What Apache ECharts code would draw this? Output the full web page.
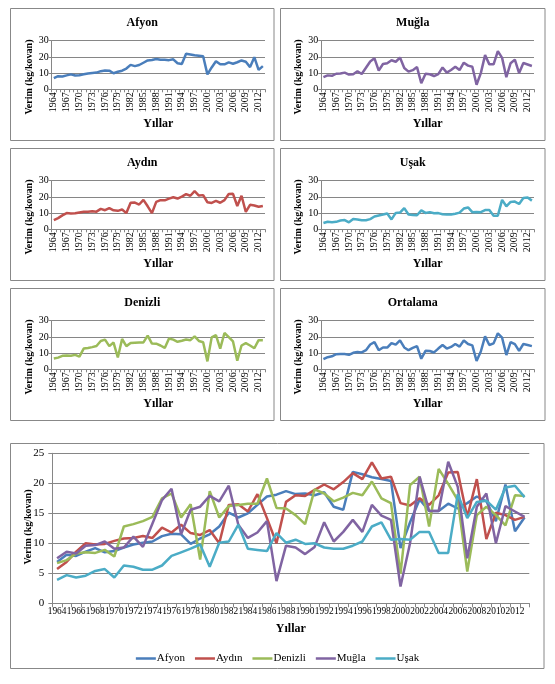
<!DOCTYPE html>
<html>
<head>
<meta charset="utf-8">
<script src="https://cdn.jsdelivr.net/npm/echarts@6/dist/echarts.min.js"></script>
<style>html,body{margin:0;padding:0;background:#fff;}#c{width:555px;height:684px;}</style>
</head>
<body>
<div id="c"></div>
<script>
var years = [1964,1965,1966,1967,1968,1969,1970,1971,1972,1973,1974,1975,1976,1977,1978,1979,1980,1981,1982,1983,1984,1985,1986,1987,1988,1989,1990,1991,1992,1993,1994,1995,1996,1997,1998,1999,2000,2001,2002,2003,2004,2005,2006,2007,2008,2009,2010,2011,2012,2013];
var afyon = [6.9,8.1,7.9,8.6,9.2,8.5,8.7,9.3,9.8,10.1, 10.3,11.2,11.6,11.5,9.9,10.8,11.5,12.8,15.1,14.3, 15.0,16.4,17.8,18.1,18.7,18.2,18.3,18.0,18.5,16.1, 15.6,21.9,21.5,21.0,20.7,20.4,9.2,13.5,17.3,15.4, 15.4,16.6,15.8,16.7,17.8,17.0,13.7,19.8,12.0,14.3];
var aydin = [5.7,6.9,8.6,10.0,9.8,9.9,10.4,10.8,10.9,11.2, 10.9,12.6,11.8,13.1,11.7,11.4,12.2,10.0,16.4,16.5, 15.3,18.2,14.2,10.0,16.9,18.0,17.9,18.9,19.8,19.0, 20.2,21.7,20.7,23.5,20.8,21.1,16.7,16.3,17.5,16.4, 18.0,21.8,21.9,14.4,20.7,10.7,15.1,14.7,13.9,14.4];
var denizli = [6.7,7.2,8.3,8.5,8.4,8.9,7.8,12.8,13.2,13.7, 14.4,17.5,18.3,14.3,16.5,7.3,18.7,14.3,16.2,16.4, 16.6,16.6,20.8,15.9,15.8,14.7,13.2,19.0,18.3,17.0, 17.6,18.4,18.0,20.3,17.5,16.7,4.9,19.7,21.1,12.8, 22.4,19.9,17.2,5.3,14.7,16.1,14.7,13.0,18.0,17.9];
var mugla = [7.5,8.6,8.3,9.6,9.7,10.3,9.1,9.3,11.1,9.4, 13.3,17.2,19.1,11.5,15.6,16.1,17.9,17.0,19.6,13.1, 10.9,11.8,13.7,3.7,9.6,9.3,8.2,9.4,13.5,10.3, 11.9,13.9,11.9,16.4,14.6,13.9,2.8,10.0,21.1,15.4, 15.4,23.6,19.4,7.5,16.1,18.3,10.0,16.2,15.3,14.4];
var usak = [3.9,4.7,4.3,4.6,5.4,5.7,4.3,6.3,6.1,5.6, 5.6,6.3,7.9,8.5,9.1,9.8,6.1,10.1,10.3,13.1, 9.1,8.9,8.7,11.7,10.1,10.6,9.9,10.0,9.3,9.1, 9.1,9.6,10.3,12.8,13.5,10.6,10.7,10.6,11.9,11.9, 8.4,8.4,18.2,14.2,16.9,17.1,15.6,19.3,19.6,17.7];
var ortalama = [6.3,7.5,8.0,9.3,9.4,9.4,8.9,10.2,10.7,10.4, 11.8,15.3,16.8,11.8,13.5,13.4,16.2,15.2,17.8,13.5, 11.8,13.2,14.3,6.5,11.4,11.3,10.4,12.8,15.0,12.8, 13.8,15.6,14.0,17.8,15.6,14.8,5.1,11.0,20.3,15.0, 16.0,22.2,19.5,8.8,16.8,15.5,11.4,15.6,15.0,14.3];

var panelNames = ['Afyon','Muğla','Aydın','Uşak','Denizli','Ortalama'];
var panelData = [afyon, mugla, aydin, usak, denizli, ortalama];
var panelColors = ['#4A7EBB','#8064A2','#C0504D','#4BACC6','#9BBB59','#4A7EBB'];
var seriesNames = ['Afyon','Aydın','Denizli','Muğla','Uşak'];
var seriesData = [afyon, aydin, denizli, mugla, usak];
var seriesColors = ['#4A7EBB','#C0504D','#9BBB59','#8064A2','#4BACC6'];

var FONT = '"Liberation Serif", "Times New Roman", serif';
var GRID_C = '#868686';

var grids = [], xAxes = [], yAxes = [], series = [], graphics = [];

function txt(x, y, s, size, bold, rot) {
  graphics.push({
    type: 'text', x: x, y: y, rotation: rot || 0, z: 10,
    style: {
      text: s, font: (bold ? 'bold ' : '') + size + 'px ' + FONT, fill: '#000',
      align: 'center', verticalAlign: 'middle', textAlign: 'center', textVerticalAlign: 'middle'
    }
  });
}
function box(x, y, w, h) {
  graphics.push({ type: 'rect', z: 0, shape: { x: x, y: y, width: w, height: h },
    style: { fill: 'none', stroke: '#888888', lineWidth: 1 } });
}

// small panels
var colBox = [[10.5, 263.5], [280.5, 264.5]];
var colGrid = [[51.7, 213.3], [321.3, 212.7]];
for (var p = 0; p < 6; p++) {
  var col = p % 2, row = Math.floor(p / 2);
  var oy = row * 140;
  box(colBox[col][0], 8.5 + oy, colBox[col][1], 132);
  var gl = colGrid[col][0], gw = colGrid[col][1];
  grids.push({ left: gl, top: 40.7 + oy, width: gw, height: 48.6 });
  xAxes.push({
    type: 'category', gridIndex: p, data: years, boundaryGap: true,
    axisLine: { show: true, lineStyle: { color: GRID_C, width: 1 } },
    axisTick: { show: true, interval: 0, length: 3, lineStyle: { color: GRID_C } },
    axisLabel: { interval: function (i) { return i % 3 === 0; }, rotate: 90, fontFamily: FONT, fontSize: 10,
      color: '#000', margin: 3, showMinLabel: true, hideOverlap: false }
  });
  yAxes.push({
    type: 'value', gridIndex: p, min: 0, max: 30, interval: 10,
    axisLine: { show: true, lineStyle: { color: GRID_C, width: 1 } },
    axisTick: { show: true, length: 3, lineStyle: { color: GRID_C } },
    splitLine: { show: true, lineStyle: { color: GRID_C, width: 1 } },
    axisLabel: { fontFamily: FONT, fontSize: 10, color: '#000', margin: 3 }
  });
  series.push({
    type: 'line', name: panelNames[p] + ' panel', xAxisIndex: p, yAxisIndex: p,
    data: panelData[p], symbol: 'none', smooth: false,
    lineStyle: { color: panelColors[p], width: 2.5 }, itemStyle: { color: panelColors[p] }
  });
  var cx = colBox[col][0] + colBox[col][1] / 2;
  txt(cx, 23 + oy, panelNames[p], 12, true);
  txt(gl + gw / 2, 124 + oy, 'Yıllar', 12, true);
  txt(col === 0 ? 29 : 298, 77 + oy, 'Verim (kg/kovan)', 10, true, Math.PI / 2);
}

// big chart
box(10.5, 443.5, 533.5, 225);
grids.push({ left: 52.3, top: 453.3, width: 477, height: 150 });
xAxes.push({
  type: 'category', gridIndex: 6, data: years, boundaryGap: true,
  axisLine: { show: true, lineStyle: { color: GRID_C, width: 1 } },
  axisTick: { show: true, interval: 0, length: 4, lineStyle: { color: GRID_C } },
  axisLabel: { interval: function (i) { return i % 2 === 0; }, fontFamily: FONT, fontSize: 9.4, color: '#000', margin: 4,
    hideOverlap: false, showMinLabel: true }
});
yAxes.push({
  type: 'value', gridIndex: 6, min: 0, max: 25, interval: 5,
  axisLine: { show: true, lineStyle: { color: GRID_C, width: 1 } },
  axisTick: { show: true, length: 4, lineStyle: { color: GRID_C } },
  splitLine: { show: true, lineStyle: { color: GRID_C, width: 1 } },
  axisLabel: { fontFamily: FONT, fontSize: 11, color: '#000', margin: 8 }
});
for (var s = 0; s < 5; s++) {
  series.push({
    type: 'line', name: seriesNames[s], xAxisIndex: 6, yAxisIndex: 6,
    data: seriesData[s], symbol: 'none',
    lineStyle: { color: seriesColors[s], width: 2.5 }, itemStyle: { color: seriesColors[s] }
  });
}
txt(290.8, 629, 'Yıllar', 12, true);
txt(28, 527, 'Verim (kg/kovan)', 10, true, Math.PI / 2);

var chart = echarts.init(document.getElementById('c'), null, { renderer: 'canvas' });
chart.setOption({
  animation: false,
  backgroundColor: '#fff',
  grid: grids, xAxis: xAxes, yAxis: yAxes, series: series,
  legend: {
    data: seriesNames, left: 'center', top: 648, icon: 'rect',
    itemWidth: 20, itemHeight: 2.5, itemGap: 10,
    textStyle: { fontFamily: FONT, fontSize: 11, color: '#000', padding: [0, 0, 0, -4] }
  },
  graphic: graphics
});
</script>
</body>
</html>
